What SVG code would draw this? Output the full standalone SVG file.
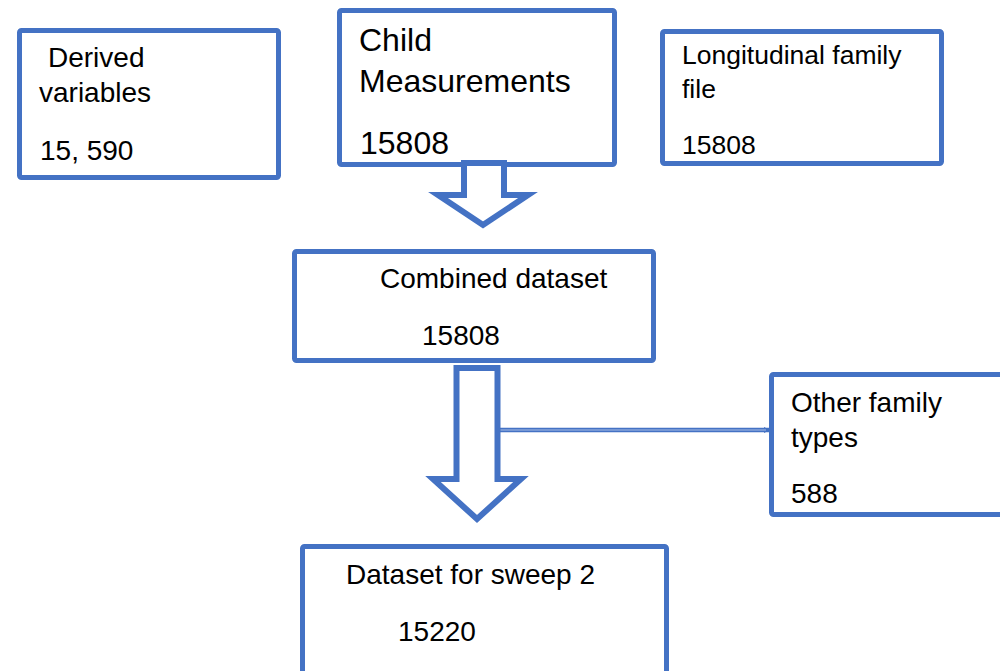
<svg xmlns="http://www.w3.org/2000/svg" width="1000" height="671" viewBox="0 0 1000 671">
<style>
.box{fill:#fff;stroke:#4472C4;stroke-width:5}
.blk{fill:#fff;stroke:#4472C4;stroke-width:6;stroke-linejoin:miter}
text{font-family:"Liberation Sans",Arial,sans-serif;font-size:28px;fill:#000}
.big{font-size:32px}
.sm{font-size:26.5px}
</style>
<defs>
<marker id="ah" markerWidth="6" markerHeight="6" refX="5" refY="3" orient="auto" markerUnits="userSpaceOnUse">
<path d="M0,0 L6,3 L0,6 z" fill="#4472C4"/>
</marker>
</defs>
<rect width="1000" height="671" fill="#fff"/>
<g id="connectors">
<line x1="499" y1="430" x2="769" y2="430" stroke="#4472C4" stroke-width="4.5" marker-end="url(#ah)"/>
<line x1="499" y1="430" x2="766" y2="430" stroke="#A9BEE6" stroke-width="1.2"/>
</g>
<g id="derived">
<rect class="box" x="19.5" y="30.5" width="259" height="147" rx="2"/>
<text x="48" y="67">Derived</text>
<text x="39" y="102">variables</text>
<text x="40" y="160">15, 590</text>
</g>
<g id="child">
<rect class="box" x="339.5" y="10.5" width="275" height="154" rx="2"/>
<text class="big" x="359" y="51">Child</text>
<text class="big" x="359" y="92">Measurements</text>
<text class="big" x="360" y="154">15808</text>
</g>
<g id="longitudinal">
<rect class="box" x="662.5" y="31.5" width="279" height="132" rx="2"/>
<text class="sm" x="682" y="64">Longitudinal family</text>
<text class="sm" x="682" y="98">file</text>
<text class="sm" x="682" y="154">15808</text>
</g>
<g id="arrow1">
<polygon class="blk" points="464,163 504,163 504,195 528,195 483,225 438,195 464,195"/>
</g>
<g id="combined">
<rect class="box" x="294.5" y="251.5" width="359" height="109" rx="2"/>
<text x="380" y="288">Combined dataset</text>
<text x="422" y="345">15808</text>
</g>
<g id="arrow2">
<polygon class="blk" points="456.5,368 497.5,368 497.5,479 521,479 477,519 433,479 456.5,479"/>
</g>
<g id="other">
<rect class="box" x="771.5" y="374.5" width="240" height="140" rx="2"/>
<text x="791" y="412">Other family</text>
<text x="791" y="447">types</text>
<text x="791" y="503">588</text>
</g>
<g id="sweep2">
<rect class="box" x="302.5" y="546.5" width="364" height="140" rx="2"/>
<text x="346" y="584">Dataset for sweep 2</text>
<text x="398" y="641">15220</text>
</g>
</svg>
